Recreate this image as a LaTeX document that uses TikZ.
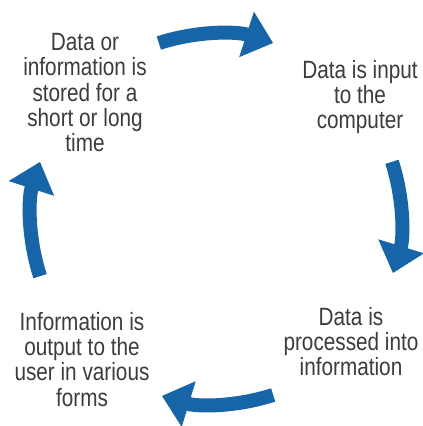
\documentclass[tikz,border=0pt]{standalone}
\usepackage{fontspec}
\setmainfont{Liberation Sans}[FakeStretch=0.83]
\usetikzlibrary{arrows.meta}
\definecolor{cycleblue}{RGB}{22,101,168}
\definecolor{stagegray}{RGB}{60,60,60}
\begin{document}
\begin{tikzpicture}[x=1pt,y=1pt,
	stagetext/.style={anchor=north, align=center, inner sep=0pt, text=stagegray,
		font=\fontsize{25}{25.3}\selectfont},
	cyclearrow/.style={draw=cycleblue, line width=14pt,
		-{Triangle[length=28pt,width=46pt]}}]
	\useasboundingbox (0,0) rectangle (423,-426);
	\coordinate (c) at (216,-219);
	% the four stages
	\node[stagetext] (store) at (85,-33) {Data or\\information is\\stored for a\\short or long\\time};
	\node[stagetext] (input) at (360,-60) {Data is input\\to the\\computer};
	\node[stagetext] (process) at (351,-307) {Data is\\processed into\\information};
	\node[stagetext] (output) at (82,-312) {Information is\\output to the\\user in various\\forms};
	% arrows round the cycle
	\coordinate (top) at ([shift={(108:185pt)}]c);
	\coordinate (right) at ([shift={(18:185pt)}]c);
	\coordinate (bottom) at ([shift={(-72:185pt)}]c);
	\coordinate (left) at ([shift={(198:185pt)}]c);
	\draw[cyclearrow] (top) arc (108:72:185pt);
	\draw[cyclearrow] (right) arc (18:-17:185pt);
	\draw[cyclearrow] (bottom) arc (-72:-107:185pt);
	\draw[cyclearrow] (left) arc (198:162:185pt);
\end{tikzpicture}
\end{document}
